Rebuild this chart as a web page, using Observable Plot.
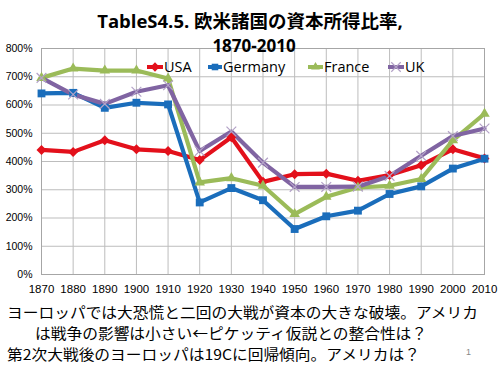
<!DOCTYPE html>
<html>
<head>
<meta charset="utf-8">
<script src="https://cdn.jsdelivr.net/npm/d3@7"></script>
<script src="https://cdn.jsdelivr.net/npm/@observablehq/plot@0.6"></script>
<style>
  html, body { margin: 0; padding: 0; background: #fff; }
  #wrap { position: relative; width: 500px; height: 365px; overflow: hidden; font-family: "Noto Sans CJK JP", sans-serif; }
  #chart { position: absolute; left: 0; top: 0; }
  .title { position: absolute; left: 0; width: 500px; text-align: center; font-weight: bold; color: #000; white-space: nowrap; font-family: "Open Sans", "Noto Sans CJK JP", sans-serif; }
  .note { position: absolute; font-size: 14.3px; color: #000; white-space: nowrap; line-height: 21px; font-family: "Noto Sans CJK JP", sans-serif; transform: scaleX(1.1); transform-origin: 0 0; }
  #legend { position: absolute; left: 0; top: 57px; }
  #pagenum { position: absolute; left: 466px; top: 347px; font-size: 9px; color: #888; font-family: "Liberation Sans", sans-serif; }
</style>
</head>
<body>
<div id="wrap">
  <div id="chart"></div>
  <div class="title" style="top:7px; font-size:18.5px;">TableS4.5. 欧米諸国の資本所得比率,</div>
  <div class="title" style="top:34px; left:4px; font-size:17px;">1870-2010</div>
  <svg id="legend" width="500" height="22"></svg>
  <div class="note" style="left:7px; top:301px;">ヨーロッパでは大恐慌と二回の大戦が資本の大きな破壊。アメリカ</div>
  <div class="note" style="left:35px; top:322px;">は戦争の影響は小さい←ピケッティ仮説との整合性は？</div>
  <div class="note" style="left:7px; top:343px;">第2次大戦後のヨーロッパは19Cに回帰傾向。アメリカは？</div>
  <div id="pagenum">1</div>
</div>
<script>
const years = [1870, 1880, 1890, 1900, 1910, 1920, 1930, 1940, 1950, 1960, 1970, 1980, 1990, 2000, 2010];
const usa     = [441, 434, 475, 443, 437, 405, 486, 328, 355, 357, 332, 352, 387, 443, 411];
const germany = [641, 643, 590, 608, 602, 255, 306, 263, 161, 206, 226, 285, 312, 375, 410];
const france  = [696, 729, 722, 722, 694, 326, 341, 314, 214, 275, 308, 314, 338, 475, 569];
const uk      = [696, 637, 604, 647, 670, 437, 506, 396, 310, 310, 311, 349, 420, 490, 517];
const seriesNames = ["USA", "Germany", "France", "UK"];
const yTicks = [0, 100, 200, 300, 400, 500, 600, 700, 800];

const colors = {USA: "#E3101B", Germany: "#1A6DBB", France: "#9BBB59", UK: "#8064A2"};
const symbols = {USA: "diamond2", Germany: "square2", France: "triangle2", UK: "times"};

const seriesValues = {USA: usa, Germany: germany, France: france, UK: uk};
const rows = seriesNames.flatMap(name => years.map((year, i) => ({series: name, year, value: seriesValues[name][i]})));

const lineMarks = [];
for (const name of seriesNames) {
  const data = rows.filter(d => d.series === name);
  lineMarks.push(Plot.line(data, {x: "year", y: "value", stroke: colors[name], strokeWidth: 4.2, curve: "linear"}));
}
for (const name of seriesNames) {
  const data = rows.filter(d => d.series === name);
  if (name === "UK") {
    lineMarks.push(Plot.dot(data, {x: "year", y: "value", symbol: "times", r: 4.5, stroke: "#B3A2C7", strokeWidth: 1.2}));
  } else {
    lineMarks.push(Plot.dot(data, {x: "year", y: "value", symbol: symbols[name], r: name === "USA" ? 4.5 : 5, fill: colors[name], stroke: "none"}));
  }
}

const chart = Plot.plot({
  width: 500,
  height: 300,
  marginLeft: 41,
  marginRight: 16,
  marginTop: 48,
  marginBottom: 26,
  style: {fontFamily: "'Liberation Sans', 'DejaVu Sans', sans-serif", background: "transparent"},
  x: {domain: [1870, 2010], ticks: years, tickFormat: d => String(d)},
  y: {domain: [0, 800], ticks: yTicks, tickFormat: d => d + "%"},
  marks: [
    Plot.gridX(years, {stroke: "#bdbdbd", strokeOpacity: 1, strokeWidth: 1}),
    Plot.gridY(yTicks, {stroke: "#bdbdbd", strokeOpacity: 1, strokeWidth: 1}),
    Plot.frame({stroke: "#a6a6a6"}),
    Plot.axisX(years, {tickSize: 0, tickPadding: 10, fontSize: 11.5, label: null, tickFormat: d => String(d)}),
    Plot.axisY(yTicks, {tickSize: 0, tickPadding: 9, fontSize: 10.5, label: null, tickFormat: d => d + "%"}),
    ...lineMarks
  ]
});
document.getElementById("chart").appendChild(chart);

// Legend
const legendItems = [
  {name: "USA", x0: 147, x1: 163},
  {name: "Germany", x0: 208, x1: 222},
  {name: "France", x0: 308, x1: 323},
  {name: "UK", x0: 388, x1: 404}
];
const lg = d3.select("#legend");
const cy = 10;
for (const it of legendItems) {
  lg.append("line").attr("x1", it.x0).attr("x2", it.x1).attr("y1", cy).attr("y2", cy)
    .attr("stroke", colors[it.name]).attr("stroke-width", 4);
  const mx = (it.x0 + it.x1) / 2;
  const sym = d3.symbol().type({diamond2: d3.symbolDiamond2, square2: d3.symbolSquare2, triangle2: d3.symbolTriangle2, times: d3.symbolTimes}[symbols[it.name]]);
  if (it.name === "UK") {
    lg.append("path").attr("d", sym.size(60)()).attr("transform", `translate(${mx},${cy})`)
      .attr("fill", "none").attr("stroke", "#B3A2C7").attr("stroke-width", 1.2);
  } else {
    lg.append("path").attr("d", sym.size(55)()).attr("transform", `translate(${mx},${cy})`)
      .attr("fill", colors[it.name]);
  }
  lg.append("text").attr("x", it.x1 + 1).attr("y", cy).attr("dy", "0.36em")
    .attr("font-size", 14.5).attr("font-family", "'Open Sans', 'Liberation Sans', sans-serif").attr("fill", "#000")
    .text(it.name);
}
</script>
</body>
</html>
